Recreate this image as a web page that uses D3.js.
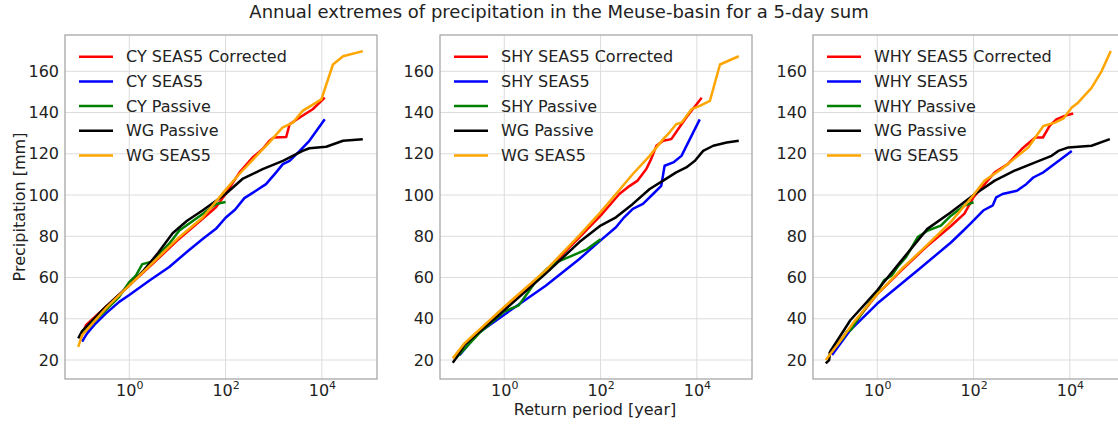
<!DOCTYPE html>
<html><head><meta charset="utf-8">
<script src="https://cdn.jsdelivr.net/npm/d3@7"></script>
<style>body{margin:0;background:#fff}svg{display:block}text{font-family:"DejaVu Sans",sans-serif;fill:#222}</style>
</head><body><svg id="c" width="1118" height="425"></svg>
<script>
// Data: [log10(return period in years), precipitation mm]
const panelNames = ["CY", "SHY", "WHY"];
const seriesSuffix = ["SEAS5 Corrected", "SEAS5", "Passive"];
const wgNames = ["WG Passive", "WG SEAS5"];
const yTicks = [20, 40, 60, 80, 100, 120, 140, 160];
const xTicks = [1, 100, 10000];
const xTickExp = ["0", "2", "4"];

// Panel 1 (CY)
const cyCorrected = [[-1.0,31],[-0.9,36.9],[-0.49,45.8],[0,56.2],[0.5,67],[1,78],[1.5,88],[1.8,94.1],[2,100.5],[2.29,111],[2.56,118.2],[2.77,122.3],[2.91,126.3],[3.0,127.9],[3.26,128.2],[3.33,134.3],[3.54,137.6],[3.81,141.6],[4.06,147.2]];
const cySeas5 = [[-0.98,28.9],[-0.94,30.5],[-0.875,32.9],[-0.7,37.7],[-0.49,42.5],[-0.21,48.2],[0,51.5],[0.42,58.6],[0.83,65.1],[1.25,73.5],[1.53,78.8],[1.8,83.6],[2.0,89],[2.2,93],[2.39,98.5],[2.63,102.1],[2.84,105.3],[3.05,111],[3.19,115],[3.33,116.6],[3.54,121.4],[3.74,126.3],[4.06,136.7]];
const cyPassive = [[-1.0,32],[-0.7,39.3],[-0.42,45.8],[-0.21,50.6],[0,57.8],[0.14,61.1],[0.27,66.5],[0.45,67.5],[0.6,71],[0.83,76.4],[1.04,82.8],[1.53,90.9],[1.8,95.7],[2.0,96.6]];
const cyWgPassive = [[-1.06,30.5],[-0.98,34],[-0.49,45.8],[0,56.2],[0.3,63.5],[0.6,72],[0.9,81.5],[1.2,87.5],[1.52,92.5],[2,100.5],[2.35,107.8],[2.77,112.6],[3.19,116.6],[3.6,121.4],[3.74,122.7],[4.09,123.4],[4.44,126.3],[4.85,127.1]];
const cyWgSeas5 = [[-1.06,26.4],[-0.98,32.1],[-0.49,45],[0,56.2],[0.5,67.5],[1,78.8],[1.53,89.2],[2,102.5],[2.285,110.2],[2.74,121.4],[2.91,125.5],[3.18,132.7],[3.4,135.1],[3.6,140.8],[3.99,146.4],[4.23,163.3],[4.44,167.3],[4.85,169.8]];

// Panel 2 (SHY)
const shyCorrected = [[-1.0,22.4],[-0.83,27.5],[0,45.5],[0.86,63],[1.56,79.5],[2,90],[2.39,100.5],[2.56,103.7],[2.77,107],[2.95,112.6],[3.05,117.4],[3.16,123.9],[3.3,126.3],[3.47,127.1],[3.61,131.9],[3.78,137.6],[4.1,147.2]];
const shySeas5 = [[-0.93,22.4],[-0.55,32.9],[0,42],[0.86,56],[1.56,69],[2,78],[2.32,84.4],[2.49,89.2],[2.67,93.3],[2.88,95.7],[3.09,100.5],[3.26,104.5],[3.33,114.2],[3.51,115.8],[3.68,119],[4.06,136.7]];
const shyPassive = [[-1.0,21],[-0.5,33.5],[0,43.5],[0.3,46.5],[0.5,53],[0.71,60],[0.9,64.5],[1.09,67.5],[1.4,70.5],[1.7,73.5],[2.0,78.5]];
const shyWgPassive = [[-1.07,18.7],[-1.0,21],[-0.83,27.2],[0,44.2],[0.86,61.9],[1.56,77.2],[2,85.2],[2.32,89.2],[2.67,95.7],[3.02,102.9],[3.3,107],[3.57,111],[3.78,113.4],[3.96,116.6],[4.13,121.4],[4.34,123.9],[4.62,125.5],[4.87,126.3]];
const shyWgSeas5 = [[-1.07,20.8],[-0.83,28],[0,45.8],[0.86,63.5],[1.56,80.4],[2,91.7],[2.32,100.5],[2.67,110.2],[3.02,119],[3.3,127.1],[3.43,130.3],[3.57,134.3],[3.68,135.1],[3.89,141.6],[4.06,143.2],[4.27,145.6],[4.48,163.3],[4.87,167.3]];

// Panel 3 (WHY)
const whyCorrected = [[-1.0,23.2],[-0.84,27.2],[0,52],[0.5,63.5],[1,74.5],[1.53,85],[1.81,91],[2,99],[2.44,111],[2.71,115],[3.0,122.3],[3.28,127.9],[3.44,127.9],[3.58,133.5],[3.72,136.7],[3.89,138.4],[4.07,139.5]];
const whySeas5 = [[-0.94,22.4],[-0.56,34.5],[0,47.4],[0.84,63.5],[1.53,77],[1.79,82.8],[1.93,86],[2.2,92.5],[2.4,95],[2.47,98.9],[2.6,100.5],[2.9,102.1],[3.1,105.4],[3.24,108.5],[3.45,111],[4.04,121.4]];
const whyPassive = [[-1.0,23],[-0.7,31],[-0.63,34],[-0.55,34.5],[-0.4,40],[0,53],[0.14,58.6],[0.3,61],[0.42,65.1],[0.6,70],[0.84,79.6],[1.05,82.8],[1.32,85.2],[1.53,90],[1.81,94.9],[2.0,96.5]];
const whyWgPassive = [[-1.07,18.4],[-1.0,20],[-0.98,24],[-0.56,39.3],[0,53.8],[0.56,69.9],[1.04,83.6],[1.53,91.7],[2.0,100],[2.44,107],[2.85,111.8],[3.28,115.8],[3.62,119],[3.76,121.4],[3.97,123.1],[4.45,123.9],[4.83,127.1]];
const whyWgSeas5 = [[-1.07,20],[-0.84,27],[-0.5,38],[0,52],[0.5,64],[1,75],[1.53,87],[2,100],[2.23,107],[2.58,112.6],[2.92,119],[3.14,123.1],[3.28,127.9],[3.45,133.5],[3.69,135.1],[3.87,137.2],[4.04,142.4],[4.17,144.8],[4.45,152],[4.66,160.1],[4.85,169.8]];

const panelData = [
  [cyCorrected, cySeas5, cyPassive, cyWgPassive, cyWgSeas5],
  [shyCorrected, shySeas5, shyPassive, shyWgPassive, shyWgSeas5],
  [whyCorrected, whySeas5, whyPassive, whyWgPassive, whyWgSeas5]
];
const colors = ["#ff0000", "#0000ff", "#008000", "#000000", "#ffa500"];

const svg = d3.select("#c");
const lefts = [65, 440, 813], W = 312, plotTop = 35, H = 344;
const x = d3.scaleLog().domain([Math.pow(10, -1.335), Math.pow(10, 5.145)]).range([0, W]);
const y = d3.scaleLinear().domain([10.8, 177.6]).range([H, 0]);

svg.append("text").attr("x", 559).attr("y", 18).attr("text-anchor", "middle")
  .style("font-size", "18px").text("Annual extremes of precipitation in the Meuse-basin for a 5-day sum");

panelNames.forEach((pn, i) => {
  const g = svg.append("g").attr("transform", `translate(${lefts[i]},${plotTop})`);
  g.append("clipPath").attr("id", "clip" + i).append("rect").attr("width", W).attr("height", H);
  g.append("g").selectAll("line").data(yTicks).join("line")
    .attr("x1", 0).attr("x2", W).attr("y1", d => y(d)).attr("y2", d => y(d))
    .attr("stroke", "#dcdcdc").attr("stroke-width", 1);
  g.append("g").selectAll("line").data(xTicks).join("line")
    .attr("y1", 0).attr("y2", H).attr("x1", d => x(d)).attr("x2", d => x(d))
    .attr("stroke", "#dcdcdc").attr("stroke-width", 1);
  const ya = g.append("g").call(d3.axisLeft(y).tickValues(yTicks).tickSize(0).tickPadding(6));
  ya.select(".domain").remove();
  ya.selectAll("text").style("font-size", "16px").style("font-family", "DejaVu Sans").attr("fill", "#222");
  const xa = g.append("g").attr("transform", `translate(0,${H})`)
    .call(d3.axisBottom(x).tickValues(xTicks).tickSize(0).tickFormat(() => ""));
  xa.select(".domain").remove();
  xa.selectAll(".tick text").remove();
  xa.selectAll(".tick").each(function(d, k) {
    const t = d3.select(this).append("text").attr("y", 17).attr("text-anchor", "middle")
      .attr("fill", "#222").style("font-size", "16px");
    t.append("tspan").text("10");
    t.append("tspan").attr("dy", -7).style("font-size", "11px").text(xTickExp[k]);
  });
  const line = d3.line().x(d => x(Math.pow(10, d[0]))).y(d => y(d[1]));
  const lg = g.append("g").attr("clip-path", `url(#clip${i})`);
  panelData[i].forEach((s, k) => {
    lg.append("path").datum(s).attr("d", line).attr("fill", "none")
      .attr("stroke", colors[k]).attr("stroke-width", 2.5)
      .attr("stroke-linejoin", "round").attr("stroke-linecap", "butt");
  });
  g.append("rect").attr("width", W).attr("height", H).attr("fill", "none")
    .attr("stroke", "#a0a0a0").attr("stroke-width", 1.2);
  const labels = seriesSuffix.map(s => pn + " " + s).concat(wgNames);
  const leg = g.append("g");
  labels.forEach((lab, k) => {
    const cy = 21.7 + k * 24.7;
    leg.append("line").attr("x1", 14).attr("x2", 48).attr("y1", cy).attr("y2", cy)
      .attr("stroke", colors[k]).attr("stroke-width", 2.5);
    leg.append("text").attr("x", 61).attr("y", cy).attr("dy", "0.35em")
      .style("font-size", "16px").text(lab);
  });
});

svg.append("text").attr("transform", "translate(25,207) rotate(-90)").attr("text-anchor", "middle")
  .style("font-size", "16px").text("Precipitation [mm]");
svg.append("text").attr("x", 595).attr("y", 415).attr("text-anchor", "middle")
  .style("font-size", "16px").text("Return period [year]");
</script></body></html>
